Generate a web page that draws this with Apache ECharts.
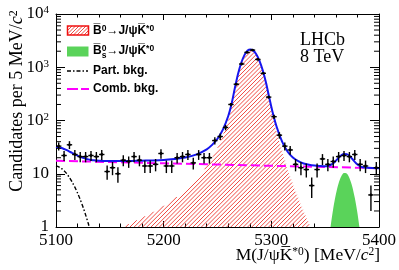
<!DOCTYPE html>
<html><head><meta charset="utf-8">
<script src="https://cdn.jsdelivr.net/npm/echarts@6/dist/echarts.min.js"></script>
<style>html,body{margin:0;padding:0;background:#fff}#c{width:399px;height:270px}</style>
</head><body><div id="c"></div>
<script>
// ---- data ----
const binCenters = [5102.5,5107.5,5112.5,5117.5,5122.5,5127.5,5132.5,5137.5,5142.5,5147.5,
  5152.5,5157.5,5162.5,5167.5,5172.5,5177.5,5182.5,5187.5,5192.5,5197.5,
  5202.5,5207.5,5212.5,5217.5,5222.5,5227.5,5232.5,5237.5,5242.5,5247.5,
  5252.5,5257.5,5262.5,5267.5,5272.5,5277.5,5282.5,5287.5,5292.5,5297.5,
  5302.5,5307.5,5312.5,5317.5,5322.5,5327.5,5332.5,5337.5,5342.5,5347.5,
  5352.5,5357.5,5362.5,5367.5,5372.5,5377.5,5382.5,5387.5,5392.5,5397.5];
const counts = [33,22,35,23,21,21,22,21,23,11,
  13,10,18,17,21,18,14,14,15,24,
  14,14,20,21,23,16,23,20,20,42,
  50,74,200,480,1150,1900,2100,1400,770,275,
  118,53,33,28,15,13,12,6,12,19,
  15,17,21,22,21,23,15,14,4,13];
const countErrors = [5.7,4.7,5.9,4.8,4.6,4.6,4.7,4.6,4.8,3.3,
  3.6,3.2,4.2,4.1,4.6,4.2,3.7,3.7,3.9,4.9,
  3.7,3.7,4.5,4.6,4.8,4.0,4.8,4.5,4.5,6.5,
  7.1,8.6,14.1,21.9,33.9,43.6,45.8,37.4,27.7,16.6,
  10.9,7.3,5.7,5.3,3.9,3.6,3.5,2.5,3.5,4.4,
  3.9,4.1,4.6,4.7,4.6,4.8,3.9,3.7,2.0,3.6];
const halfBin = 2.5;

const fitMass = [5100,5102.5,5105,5107.5,5110,5112.5,5115,5117.5,5120,5122.5,5125,5127.5,5130,5132.5,5135,
  5140,5150,5160,5170,5180,5190,5200,5210,5220,5230,5240,5245,5250,5255,5260,
  5263,5266,5269,5272,5275,5278,5280.5,5283,5286,5289,5292,5295,5298,5301,
  5305,5310,5315,5320,5325,5330,5335,5340,5345,5350,
  5352.5,5355,5357.5,5360,5362.5,5365,5367.5,5370,5372.5,5375,5377.5,5380,5382.5,5385,5390,5400];
const fitTotal = [31.9,31.3,30.4,29.1,27.7,26.1,24.6,23.2,21.9,20.8,19.9,19.2,18.6,18.2,17.9,
  17.6,17.3,17.4,17.4,17.6,17.8,18.2,19.0,20.1,22.8,28.8,34.8,45.5,67.4,121.6,
  201.6,396.6,739.6,1201.6,1691.5,2057.5,2164.4,2073.4,1758.4,1318.3,875.3,516.2,273.2,148.1,
  75.5,40.0,26.1,20.1,17.2,15.6,14.8,14.3,14.0,13.8,
  14.0,14.6,15.7,17.6,20.0,22.3,23.6,23.3,21.6,19.1,16.7,14.9,13.8,13.3,12.9,12.75];

const sigMass = [5150,5160,5170,5180,5190,5200,5210,5220,5230,5240,
  5245,5250,5255,5260,5263,5266,5269,5272,5275,5278,
  5280.5,5283,5286,5289,5292,5295,5298,5301,5305,5310,
  5315,5320,5325,5330,5335,5340,5345];
const sigValues = [0.78,0.97,1.2,1.5,1.9,2.5,3.4,4.8,7.6,13.7,
  19.8,30.6,52.6,106.8,186.9,381.9,725,1187,1677,2043,
  2150,2059,1744,1304,861,502,259,134,61.4,26.0,
  12.2,6.23,3.39,1.95,1.17,0.73,0.47];

const bsMass = [5350,5352.5,5355,5357.5,5360,5362.5,5365,5367.5,5370,5372.5,5375,5377.5,5380,5382.5,5385,5387.5];
const bsValues = [0.13,0.39,1.0,2.22,4.15,6.61,8.95,10.29,10.06,8.36,5.90,3.54,1.81,0.78,0.29,0.09];

const combMass = [5100,5150,5200,5250,5300,5350,5400];
const combValues = [17.5,16.6,15.7,14.9,14.1,13.4,12.7];

const partMass = [5100,5102.5,5105,5107.5,5110,5112.5,5115,5117.5,5120,5122.5,5125,5127.5,5130,5132.5,5135,5137.5];
const partValues = [14.1,13.5,12.6,11.4,10.0,8.5,7.0,5.6,4.35,3.27,2.39,1.69,1.16,0.77,0.5,0.31];

const xTicks = [5100,5200,5300,5400];
const yDecades = [1,10,100,1000,10000];
const yMinorTicks = [2,3,4,5,6,7,8,9,20,30,40,50,60,70,80,90,200,300,400,500,600,700,800,900,2000,3000,4000,5000,6000,7000,8000,9000];

// ---- styling ----
const HATCH = 'rgba(238,55,48,0.9)';
const HATCH_STEP = 4.2;
const GREEN = '#5ad35a';
const SERIF = 'Liberation Serif';
const SANS = 'Liberation Sans';
const xMin = xTicks[0], xMax = xTicks[xTicks.length-1];
const yBase = yDecades[0];
const pair = (a,b)=>a.map((m,i)=>[m,b[i]]);

// "/" hatch lines inside a rectangle (legend box)
function rectHatch(x0,y0,w,h,step){
  const out=[]; const x1=x0+w, y1=y0+h;
  for(let c=Math.ceil((x0+y0)/step)*step; c<=x1+y1; c+=step){
    const xa=Math.max(x0,c-y1), xb=Math.min(x1,c-y0);
    if(xb>xa) out.push({type:'line',silent:true,shape:{x1:xa,y1:c-xa,x2:xb,y2:c-xb},style:{stroke:HATCH,lineWidth:1}});
  }
  return out;
}

const chart = echarts.init(document.getElementById('c'), null, {renderer:'canvas'});
const xAxisBase = {type:'value', min:xMin, max:xMax, interval:100,
  axisLine:{show:true,onZero:false,lineStyle:{color:'#000',width:1}},
  axisTick:{show:true,inside:true,length:6,lineStyle:{color:'#000'}},
  minorTick:{show:true,splitNumber:5,length:3.5,lineStyle:{color:'#000'}},
  splitLine:{show:false}, minorSplitLine:{show:false}};
const yAxisBase = {type:'log', logBase:10, min:yDecades[0], max:yDecades[yDecades.length-1],
  axisLine:{show:true,onZero:false,lineStyle:{color:'#000',width:1}},
  axisTick:{show:true,inside:true,length:9,lineStyle:{color:'#000'}},
  minorTick:{show:false}, splitLine:{show:false}};

const option = {
  animation:false,
  grid:{left:56,right:20,top:14,bottom:43,containLabel:false},
  xAxis:[
    Object.assign({}, xAxisBase, {position:'bottom',
      axisLabel:{show:true,margin:5,fontFamily:SERIF,fontSize:17,color:'#000',formatter:v=>String(v)}}),
    Object.assign({}, xAxisBase, {position:'top', axisLabel:{show:false}})
  ],
  yAxis:[
    Object.assign({}, yAxisBase, {position:'left',
      axisLabel:{show:true,margin:7,
        formatter:v=>{const k=Math.round(Math.log10(v)); if(k===0) return '{b|1}'; if(k===1) return '{b|10}'; return '{b|10}{s|'+k+'}';},
        rich:{b:{fontFamily:SERIF,fontSize:17,color:'#000'}, s:{fontFamily:SERIF,fontSize:11,color:'#000',verticalAlign:'top',padding:[0,0,7,0]}}}}),
    Object.assign({}, yAxisBase, {position:'right', axisLabel:{show:false}})
  ],
  series:[
    {name:'B0', type:'custom', silent:true, z:1, clip:true,
      data:[[sigMass[0], sigValues[0]]], encode:{x:0,y:1},
      renderItem:(params,api)=>{
        const pts=sigMass.map((m,i)=>api.coord([m,sigValues[i]]));
        const yB=api.coord([xMin,yBase])[1];
        const xs0=pts[0][0], xs1=pts[pts.length-1][0];
        let j=0;
        const yc=x=>{ while(j<pts.length-2 && pts[j+1][0]<x) j++; while(j>0 && pts[j][0]>x) j--;
          const a=pts[j], b=pts[j+1]; const t=(x-a[0])/(b[0]-a[0]); return a[1]+(b[1]-a[1])*t; };
        let yTop=Infinity; pts.forEach(p=>{ if(p[1]<yTop) yTop=p[1]; });
        const children=[]; const dx=0.25;
        const seg=(c,xa,xb)=>children.push({type:'line',shape:{x1:xa,y1:c-xa,x2:xb,y2:c-xb},style:{stroke:HATCH,lineWidth:1}});
        for(let c=Math.floor((xs0+yTop)/HATCH_STEP)*HATCH_STEP; c<=xs1+yB; c+=HATCH_STEP){
          let start=null; j=0;
          for(let x=Math.max(xs0,c-yB); x<=xs1; x+=dx){
            const y=c-x;
            const inside = y<=yB && y>=yc(x);
            if(inside && start===null) start=x;
            if(!inside && start!==null){ seg(c,start,x-dx); start=null; }
            if(y<yTop-1) break;
          }
          if(start!==null) seg(c,start,xs1);
        }
        return {type:'group',children};
      }},
    {name:'Bs', type:'line', data:pair(bsMass,bsValues), showSymbol:false, smooth:0.3,
      lineStyle:{width:0}, areaStyle:{color:GREEN,opacity:1,origin:'start'}, z:2, clip:true, silent:true},
    {name:'Comb', type:'line', data:pair(combMass,combValues), showSymbol:false,
      lineStyle:{color:'#ff00ff',width:2,type:[9,4]}, z:3, clip:true, silent:true},
    {name:'Part', type:'line', data:pair(partMass,partValues), showSymbol:false, smooth:0.3,
      lineStyle:{color:'#000',width:1.4,type:[4,2,1.5,2]}, z:3, clip:true, silent:true},
    {name:'Total', type:'line', data:pair(fitMass,fitTotal), showSymbol:false, smooth:0.3,
      lineStyle:{color:'#1515ee',width:2}, z:4, clip:true, silent:true},
    {name:'Data', type:'custom', silent:true, z:10,
      data:binCenters.map((m,i)=>[m,counts[i],countErrors[i]]), encode:{x:0,y:1},
      renderItem:(params,api)=>{
        const m=api.value(0), v=api.value(1), e=api.value(2);
        const c=api.coord([m,v]), l=api.coord([m-halfBin,v]), r=api.coord([m+halfBin,v]);
        const lo=api.coord([m,Math.max(v-e,0.5)]), hi=api.coord([m,v+e]);
        const st={stroke:'#000',lineWidth:1.4};
        return {type:'group',children:[
          {type:'line',shape:{x1:l[0],y1:l[1],x2:r[0],y2:r[1]},style:st},
          {type:'line',shape:{x1:lo[0],y1:lo[1],x2:hi[0],y2:hi[1]},style:st},
          {type:'circle',shape:{cx:c[0],cy:c[1],r:1.4},style:{fill:'#000'}}
        ]};
      }},
    {name:'yMinor', type:'custom', silent:true, z:11,
      data:yMinorTicks.map(v=>[xMin,v]), encode:{x:0,y:1},
      renderItem:(params,api)=>{
        const v=api.value(1);
        const a=api.coord([xMin,v]), b=api.coord([xMax,v]);
        const st={stroke:'#000',lineWidth:1};
        return {type:'group',children:[
          {type:'line',shape:{x1:a[0],y1:a[1],x2:a[0]+5,y2:a[1]},style:st},
          {type:'line',shape:{x1:b[0]-5,y1:b[1],x2:b[0],y2:b[1]},style:st}
        ]};
      }}
  ],
  graphic:[
    // y title
    {type:'text', x:17, y:101, rotation:Math.PI/2, silent:true,
      style:{text:'{t|Candidates per 5 MeV/}{it|c}{sup|2}', textAlign:'center', textVerticalAlign:'middle',
        rich:{t:{fontFamily:SERIF,fontSize:18,fill:'#000'}, it:{fontFamily:SERIF,fontStyle:'italic',fontSize:18,fill:'#000'},
          sup:{fontFamily:SERIF,fontSize:12,fill:'#000',verticalAlign:'top',padding:[0,0,7,0]}}}},
    // x title
    {type:'text', x:380, y:255, silent:true,
      style:{text:'{t|M(J/\u03c8K\u0305}{sup|*0}{t|) [MeV/}{it|c}{sup|2}{t|]}', textAlign:'right', textVerticalAlign:'middle',
        rich:{t:{fontFamily:SERIF,fontSize:17.5,fill:'#000'}, it:{fontFamily:SERIF,fontStyle:'italic',fontSize:17.5,fill:'#000'},
          sup:{fontFamily:SERIF,fontSize:11.5,fill:'#000',verticalAlign:'top',padding:[0,0,7,0]}}}},
    // LHCb label
    {type:'text', x:300, y:40, silent:true, style:{text:'LHCb', font:'18px "Liberation Serif"', fill:'#000', textVerticalAlign:'middle'}},
    {type:'text', x:300, y:57, silent:true, style:{text:'8 TeV', font:'18px "Liberation Serif"', fill:'#000', textVerticalAlign:'middle'}},
    // legend
    {type:'group', silent:true, children:rectHatch(67.5,26,21,9,3.5)},
    {type:'rect', shape:{x:67.5,y:26,width:21,height:9}, silent:true,
      style:{fill:null, stroke:'#f01010', lineWidth:1.5}},
    {type:'rect', shape:{x:67,y:46.5,width:21.5,height:10}, silent:true, style:{fill:GREEN}},
    {type:'line', shape:{x1:67,y1:71,x2:88,y2:71}, silent:true, style:{stroke:'#000',lineWidth:1.4,lineDash:[4,2,1.5,2]}},
    {type:'line', shape:{x1:67,y1:89,x2:89,y2:89}, silent:true, style:{stroke:'#ff00ff',lineWidth:2,lineDash:[11,3]}},
    {type:'text', x:93, y:31, silent:true,
      style:{text:'{t|B\u0305}{sup|0}{t|\u2192J/\u03c8K\u0305}{sup|*0}', textVerticalAlign:'middle',
        rich:{t:{fontFamily:SANS,fontWeight:'bold',fontSize:12,fill:'#000'}, sup:{fontFamily:SANS,fontWeight:'bold',fontSize:8.5,fill:'#000',verticalAlign:'top',padding:[0,0,5,0]}}}},
    {type:'text', x:93, y:51, silent:true,
      style:{text:'{t|B\u0305}{sup|0}{t|\u2192J/\u03c8K\u0305}{sup|*0}', textVerticalAlign:'middle',
        rich:{t:{fontFamily:SANS,fontWeight:'bold',fontSize:12,fill:'#000'}, sup:{fontFamily:SANS,fontWeight:'bold',fontSize:8.5,fill:'#000',verticalAlign:'top',padding:[0,0,5,0]}}}},
    {type:'text', x:101.8, y:56, silent:true, style:{text:'s', font:'bold 8.5px "Liberation Sans"', fill:'#000', textVerticalAlign:'middle'}},
    {type:'text', x:93, y:71, silent:true, style:{text:'Part. bkg.', font:'bold 12px "Liberation Sans"', fill:'#000', textVerticalAlign:'middle'}},
    {type:'text', x:93, y:89, silent:true, style:{text:'Comb. bkg.', font:'bold 12px "Liberation Sans"', fill:'#000', textVerticalAlign:'middle'}}
  ]
};
chart.setOption(option);
</script></body></html>
